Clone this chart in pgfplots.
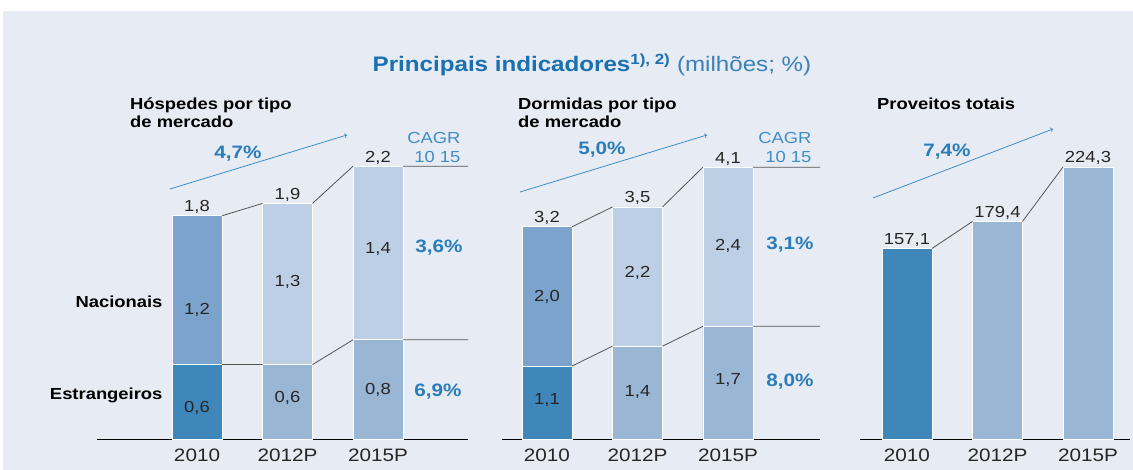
\documentclass[border=0pt]{standalone}
\usepackage{fontspec}
\setmainfont{Liberation Sans}[FakeStretch=1.15]
\usepackage{pgfplots}
\pgfplotsset{compat=1.18}

\definecolor{bg}{HTML}{E7EBF3}
\definecolor{bardark}{HTML}{3F86BA}
\definecolor{barmid}{HTML}{7BA3CB}
\definecolor{barmed}{HTML}{9AB6D5}
\definecolor{barlight}{HTML}{BDCFE4}
\definecolor{titleblue}{HTML}{1A70B0}
\definecolor{softblue}{HTML}{3A80B9}
\definecolor{cagrblue}{HTML}{2A7DBA}
\definecolor{labelblue}{HTML}{3F8DC6}
\definecolor{linec}{HTML}{555555}

\pgfplotsset{
  panel/.style={
    scale only axis, height=339pt, ymin=0,
    ybar, bar shift=0pt, bar width=0.5525,
    axis y line=none, axis x line=bottom,
    axis line style={black, line width=0.9pt, -},
    xtick={0,1,2}, xticklabels={2010,2012P,2015P},
    major tick length=0pt,
    xticklabel style={font=\fontsize{18}{18}\selectfont, text=black!85, yshift=-6pt},
    clip=false, unbounded coords=jump,
  },
  conn/.style={sharp plot, draw=linec, line width=0.8pt, forget plot, mark=none},
  mybar/.style={draw=white, line width=0.8pt, forget plot},
}
\tikzset{val/.style={font=\fontsize{16}{16}\selectfont, text=black!85}}

\begin{document}
\begin{tikzpicture}[x=1pt,y=1pt]
\path[use as bounding box] (0,0) rectangle (1133,470);
\fill[bg] (3,0) rectangle (1133,459);

% Hospedes
\begin{axis}[panel, at={(97pt,31pt)}, anchor=south west, width=371pt,
  xmin=-1.105, xmax=2.994, ymax=2.7339]
\addplot[mybar, fill=barmid] coordinates {(0,1.8)};
\addplot[mybar, fill=barlight] coordinates {(1,1.9) (2,2.2)};
\addplot[mybar, fill=bardark] coordinates {(0,0.6)};
\addplot[mybar, fill=barmed] coordinates {(1,0.6) (2,0.8)};
\addplot[conn] coordinates {(0.276,1.8) (0.724,1.9) (1,nan) (1.276,1.9) (1.724,2.2) (2,nan) (2.276,2.2) (2.994,2.2)};
\addplot[conn] coordinates {(0.276,0.6) (0.724,0.6) (1,nan) (1.276,0.6) (1.724,0.8) (2,nan) (2.276,0.8) (2.994,0.8)};
\node[val, anchor=base, yshift=4pt] at (axis cs:0,1.8) {1,8};
\node[val, anchor=base, yshift=4pt] at (axis cs:1,1.9) {1,9};
\node[val, anchor=base, yshift=4pt] at (axis cs:2,2.2) {2,2};
\node[val] at (axis cs:0,1.04) {1,2};
\node[val] at (axis cs:0,0.25) {0,6};
\node[val] at (axis cs:1,1.266) {1,3};
\node[val] at (axis cs:1,0.33) {0,6};
\node[val] at (axis cs:2,1.532) {1,4};
\node[val] at (axis cs:2,0.395) {0,8};
\end{axis}

% Dormidas
\begin{axis}[panel, at={(502pt,31pt)}, anchor=south west, width=318pt,
  xmin=-0.497, xmax=3.017, ymax=5.1131]
\addplot[mybar, fill=barmid] coordinates {(0,3.2)};
\addplot[mybar, fill=barlight] coordinates {(1,3.5) (2,4.1)};
\addplot[mybar, fill=bardark] coordinates {(0,1.1)};
\addplot[mybar, fill=barmed] coordinates {(1,1.4) (2,1.7)};
\addplot[conn] coordinates {(0.276,3.2) (0.724,3.5) (1,nan) (1.276,3.5) (1.724,4.1) (2,nan) (2.276,4.1) (3.017,4.1)};
\addplot[conn] coordinates {(0.276,1.1) (0.724,1.4) (1,nan) (1.276,1.4) (1.724,1.7) (2,nan) (2.276,1.7) (3.017,1.7)};
\node[val, anchor=base, yshift=4pt] at (axis cs:0,3.2) {3,2};
\node[val, anchor=base, yshift=4pt] at (axis cs:1,3.5) {3,5};
\node[val, anchor=base, yshift=4pt] at (axis cs:2,4.1) {4,1};
\node[val] at (axis cs:0,2.142) {2,0};
\node[val] at (axis cs:0,0.588) {1,1};
\node[val] at (axis cs:1,2.504) {2,2};
\node[val] at (axis cs:1,0.709) {1,4};
\node[val] at (axis cs:2,2.911) {2,4};
\node[val] at (axis cs:2,0.89) {1,7};
\end{axis}

% Proveitos
\begin{axis}[panel, at={(860pt,31pt)}, anchor=south west, width=270pt,
  xmin=-0.519, xmax=2.464, ymax=279.54]
\addplot[mybar, fill=bardark] coordinates {(0,157.1)};
\addplot[mybar, fill=barmed] coordinates {(1,179.4) (2,224.3)};
\addplot[conn] coordinates {(0.276,157.1) (0.724,179.4) (1,nan) (1.276,179.4) (1.724,224.3)};
\node[val, anchor=base, yshift=4pt] at (axis cs:0,157.1) {157,1};
\node[val, anchor=base, yshift=4pt] at (axis cs:1,179.4) {179,4};
\node[val, anchor=base, yshift=4pt] at (axis cs:2,224.3) {224,3};
\end{axis}

% titles
\node[anchor=base, font=\fontsize{21}{21}\selectfont] at (592,398)
  {\textcolor{titleblue}{\bfseries Principais indicadores\textsuperscript{1), 2)}} \textcolor{softblue}{(milhões; \%)}};
\begin{scope}[every node/.style={anchor=base west, font=\fontsize{16}{16}\selectfont\bfseries, text=black, inner sep=0pt}]
\node at (130,360) {Hóspedes por tipo};
\node at (130,342) {de mercado};
\node at (518,360) {Dormidas por tipo};
\node at (518,342) {de mercado};
\node at (877,360) {Proveitos totais};
\end{scope}
\node[anchor=east, font=\fontsize{16}{16}\selectfont\bfseries] at (166,168) {Nacionais};
\node[anchor=east, font=\fontsize{16}{16}\selectfont\bfseries] at (166,75) {Estrangeiros};

% CAGR arrows
\draw[labelblue, line width=0.8pt, ->] (170,281) -- (347,335);
\draw[labelblue, line width=0.8pt, ->] (520,278) -- (707,335);
\draw[labelblue, line width=0.8pt, ->] (873,272) -- (1053,341);
\begin{scope}[every node/.style={font=\fontsize{18}{18}\selectfont\bfseries, text=cagrblue}]
\node at (238,316) {4,7\%};
\node at (602,320) {5,0\%};
\node at (947,318) {7,4\%};
\node at (439,222) {3,6\%};
\node at (438,78) {6,9\%};
\node at (790,225) {3,1\%};
\node at (790,88) {8,0\%};
\end{scope}
\begin{scope}[every node/.style={anchor=east, font=\fontsize{16}{16}\selectfont, text=labelblue}]
\node at (464,332) {CAGR};
\node at (464,313) {10 15};
\node at (815,332) {CAGR};
\node at (815,313) {10 15};
\end{scope}
\end{tikzpicture}
\end{document}
